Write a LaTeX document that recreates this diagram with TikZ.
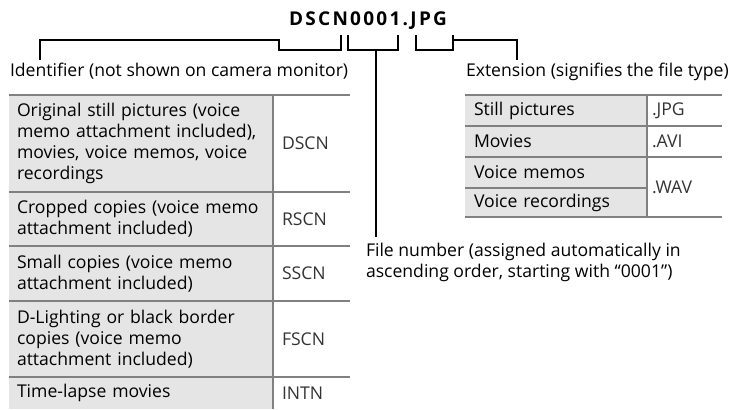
\documentclass[tikz,border=0pt]{standalone}
\usepackage{fontspec}
\setmainfont{Open Sans}
\usepackage{tikz}
\usetikzlibrary{positioning}
\usepackage{xcolor}

\begin{document}
\begin{tikzpicture}[
  x=1pt, y=-1pt,
  font=\fontsize{17.6}{21}\selectfont,
  every node/.style={inner sep=0pt, outer sep=0pt},
  lbl/.style={anchor=base west, text=black},
  namecell/.style={fill=black!10, anchor=north west, align=left,
                   text width=248pt, inner xsep=8pt},
  codecell/.style={fill=white, anchor=north west, align=left, text=black!80,
                   text width=59pt, inner xsep=9pt},
  extcell/.style={fill=black!10, anchor=north west, align=left,
                  text width=164pt, inner xsep=9pt},
  extcode/.style={fill=white, anchor=north west, align=left, text=black!80,
                  text width=65pt, inner xsep=5pt},
  rule/.style={draw=black!50, line width=2.6pt},
  brk/.style={draw=black, line width=2pt}
]
  \useasboundingbox (0,0) rectangle (735,409);

  % --- File name ---
  \node[anchor=base, font=\fontsize{19}{20}\selectfont\bfseries\addfontfeature{LetterSpace=12}]
       (fname) at (368,26) {DSCN0001.JPG};

  % --- Bracket corners ---
  \coordinate (idL) at (279,50);  \coordinate (idR) at (341,50);
  \coordinate (noL) at (348,50);  \coordinate (noR) at (398,50);
  \coordinate (exL) at (416,50);  \coordinate (exR) at (453,50);
  \coordinate (noM) at (376,50);
  \coordinate (idEnd) at (40,60);
  \coordinate (exEnd) at (517,60);
  \coordinate (noEnd) at (376,237);

  % --- Labels ---
  \node[lbl] (idlbl) at (10,77) {Identifier (not shown on camera monitor)};
  \node[lbl] (exlbl) at (466,77) {Extension (signifies the file type)};
  \node[anchor=north west, align=left] (nolbl) at (366,243)
       {File number (assigned automatically in\\ascending order, starting with ``0001'')};

  % --- Brackets ---
  \draw[brk] (idEnd) |- ([yshift=10pt]idL) -- (idL) -- (idR) -- ([yshift=15pt]idR);
  \draw[brk] ([yshift=15pt]noL) -- (noL) -- (noR) -- ([yshift=15pt]noR);
  \draw[brk] (noM) -- (noEnd);
  \draw[brk] ([yshift=15pt]exL) -- (exL) -- (exR) -- ([yshift=15pt]exR);
  \draw[brk] ([yshift=10pt]exR) -| (exEnd);

  % --- Identifier table ---
  \node[namecell, minimum height=97pt] (id1) at (9,95)
       {Original still pictures (voice\\memo attachment included),\\movies, voice memos, voice\\recordings};
  \node[namecell, minimum height=54pt, below=0pt of id1] (id2)
       {Cropped copies (voice memo\\attachment included)};
  \node[namecell, minimum height=55pt, below=0pt of id2] (id3)
       {Small copies (voice memo\\attachment included)};
  \node[namecell, minimum height=76pt, below=0pt of id3] (id4)
       {D-Lighting or black border\\copies (voice memo\\attachment included)};
  \node[namecell, minimum height=32pt, below=0pt of id4] (id5) {Time-lapse movies};

  \node[codecell, minimum height=97pt, right=0pt of id1.north east, anchor=north west] (cd1) {DSCN};
  \node[codecell, minimum height=54pt, below=0pt of cd1] (cd2) {RSCN};
  \node[codecell, minimum height=55pt, below=0pt of cd2] (cd3) {SSCN};
  \node[codecell, minimum height=76pt, below=0pt of cd3] (cd4) {FSCN};
  \node[codecell, minimum height=32pt, below=0pt of cd4] (cd5) {INTN};

  \foreach \r in {1,...,5}
    \draw[rule] (id\r.north west) -- (cd\r.north east);
  \draw[rule] (cd1.north west) -- (cd5.south west);

  % --- Extension table ---
  \node[extcell, minimum height=31pt] (ex1) at (465,95) {Still pictures};
  \node[extcell, minimum height=31pt, below=0pt of ex1] (ex2) {Movies};
  \node[extcell, minimum height=31pt, below=0pt of ex2] (ex3) {Voice memos};
  \node[extcell, minimum height=29pt, below=0pt of ex3] (ex4) {Voice recordings};

  \node[extcode, minimum height=31pt, right=0pt of ex1.north east, anchor=north west] (ec1) {.JPG};
  \node[extcode, minimum height=31pt, below=0pt of ec1] (ec2) {.AVI};
  \node[extcode, minimum height=60pt, below=0pt of ec2] (ec3) {.WAV};

  \foreach \r in {1,2,3}
    \draw[rule] (ex\r.north west) -- (ec\r.north east);
  \draw[rule] (ex4.north west) -- (ex4.north east);
  \draw[rule] (ex4.south west) -- (ec3.south east);
  \draw[rule] (ec1.north west) -- (ec3.south west);
\end{tikzpicture}
\end{document}
